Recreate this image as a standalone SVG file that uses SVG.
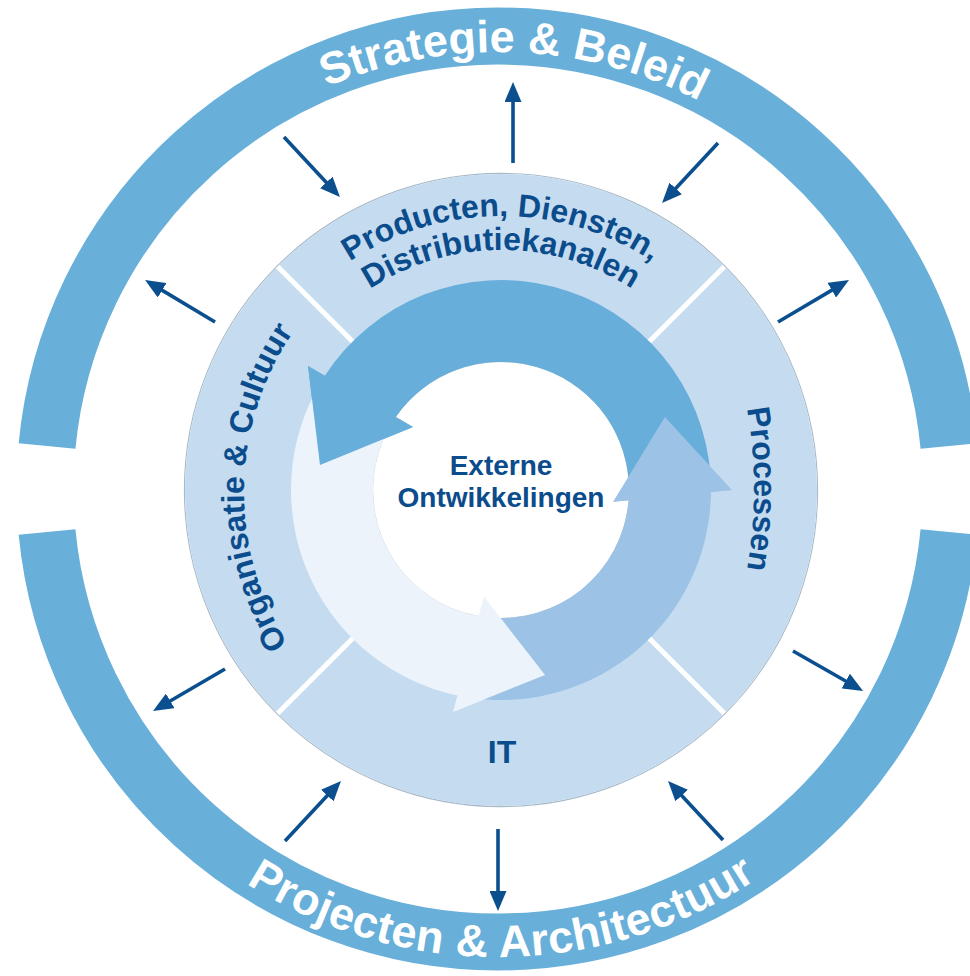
<svg xmlns="http://www.w3.org/2000/svg" width="970" height="976" viewBox="0 0 970 976">
<style>
.ring{fill:none;stroke:#68afd9;stroke-width:57}
.ringtxt{font-family:"Liberation Sans",Arial,sans-serif;font-weight:bold;font-size:45px;fill:#ffffff}
.seg{fill:#c5dcf0}
.segtxt{font-family:"Liberation Sans",Arial,sans-serif;font-weight:bold;font-size:32px;fill:#0b4c8c}
.ctrtxt{font-family:"Liberation Sans",Arial,sans-serif;font-weight:bold;font-size:28px;fill:#0b4c8c;text-anchor:middle}
.conn{fill:none;stroke:#0b4f8f;stroke-width:3.6;marker-end:url(#ah)}
.dark{fill:#68aedb}
.med{fill:#9cc3e6}
.light{fill:#edf3fb}
</style>
<defs>
<marker id="ah" viewBox="0 0 20 17" refX="12" refY="8.5" markerWidth="20" markerHeight="17" markerUnits="userSpaceOnUse" orient="auto">
<path d="M0,0 L20,8.5 L0,17 Z" fill="#0b4f8f"/>
</marker>
<path id="pTop" d="M 61 489 A 437 437 0 0 1 935 489"/>
<path id="pBot" d="M 30 489 A 468 468 0 0 0 966 489"/>
<path id="pL1" d="M 243.53 396.29 A 274 274 0 0 1 758.47 396.29"/>
<path id="pL2" d="M 275.47 407.92 A 240 240 0 0 1 726.53 407.92"/>
<path id="pLeft" d="M 310.4 674.6 A 284 284 0 0 1 316.9 302.0"/>
<path id="pRight" d="M 725.96 329.96 A 465 465 0 0 1 725.96 648.04"/>
</defs>
<rect width="970" height="976" fill="#ffffff"/>

<g id="strategie-beleid">
<path class="ring" d="M 47.05 445.97 A 453 453 0 0 1 948.95 445.97"/>
<text class="ringtxt"><textPath href="#pTop" startOffset="51.2%" text-anchor="middle">Strategie &amp; Beleid</textPath></text>
</g>
<g id="projecten-architectuur">
<path class="ring" d="M 948.95 532.03 A 453 453 0 0 1 47.05 532.03"/>
<text class="ringtxt" letter-spacing="0.5"><textPath href="#pBot" startOffset="50.3%" text-anchor="middle">Projecten &amp; Architectuur</textPath></text>
</g>

<circle cx="501" cy="490" r="316.6" fill="none" stroke="#a9b9c8" stroke-width="1.1"/>

<g id="producten">
<path class="seg" d="M 279.33 264.79 A 316 316 0 0 1 722.67 264.79 L 640.64 346.82 A 200 200 0 0 0 361.36 346.82 Z"/>
<text class="segtxt"><textPath href="#pL1" startOffset="50%" text-anchor="middle">Producten, Diensten,</textPath></text>
<text class="segtxt"><textPath href="#pL2" startOffset="50%" text-anchor="middle">Distributiekanalen</textPath></text>
</g>
<g id="processen">
<path class="seg" d="M 726.21 268.33 A 316 316 0 0 1 726.21 711.67 L 644.18 629.64 A 200 200 0 0 0 644.18 350.36 Z"/>
<text class="segtxt"><textPath href="#pRight" startOffset="50%" text-anchor="middle">Processen</textPath></text>
</g>
<g id="it">
<path class="seg" d="M 722.67 715.21 A 316 316 0 0 1 279.33 715.21 L 361.36 633.18 A 200 200 0 0 0 640.64 633.18 Z"/>
<text class="segtxt" x="502" y="763" text-anchor="middle">IT</text>
</g>
<g id="organisatie">
<path class="seg" d="M 275.79 711.67 A 316 316 0 0 1 275.79 268.33 L 357.82 350.36 A 200 200 0 0 0 357.82 629.64 Z"/>
<text class="segtxt"><textPath href="#pLeft" startOffset="50%" text-anchor="middle">Organisatie &amp; Cultuur</textPath></text>
</g>

<g id="cycle">
<circle cx="501" cy="490" r="128.4" fill="#ffffff" stroke="#b9c3cd" stroke-width="0.8"/>
<path class="dark" d="M 710.49 475.35 A 210 210 0 0 0 324.8 375.8 L 308 366 L 320 465 L 413 427 L 395.8 417.0 A 128 128 0 0 1 628.69 481.07 Z"/>
<path class="light" d="M 313.9 394.7 A 210 210 0 0 0 457.6 695.5 L 453.3 711.7 L 545 675 L 484 596.7 L 478.8 616.1 A 128 128 0 0 1 386.9 431.9 Z"/>
<path class="med" d="M 471.8 698 A 210 210 0 0 0 711.0 492.0 L 731.7 490 L 665 417.3 L 613.3 501.7 L 628.6 500.2 A 128 128 0 0 1 483.2 616.8 Z"/>
<path class="dark" d="M 308 366 L 320 465 L 413 427 Z"/>
<path class="light" d="M 453.3 711.7 L 545 675 L 484 596.7 Z"/>
<path class="med" d="M 731.7 490 L 665 417.3 L 613.3 501.7 Z"/>
</g>

<g id="externe-ontwikkelingen">
<text class="ctrtxt" x="501" y="475">Externe</text>
<text class="ctrtxt" x="501" y="507">Ontwikkelingen</text>
</g>

<g id="connectors">
<line class="conn" x1="284" y1="137" x2="334.5" y2="191.2"/>
<line class="conn" x1="215" y1="322" x2="151.9" y2="284.1"/>
<line class="conn" x1="513" y1="163" x2="513" y2="90"/>
<line class="conn" x1="718" y1="143" x2="667.5" y2="197.2"/>
<line class="conn" x1="778" y1="322" x2="842.1" y2="284.1"/>
<line class="conn" x1="225" y1="669" x2="159.9" y2="707"/>
<line class="conn" x1="285" y1="841" x2="335.5" y2="786.8"/>
<line class="conn" x1="498" y1="829" x2="498" y2="903"/>
<line class="conn" x1="723" y1="840" x2="673.5" y2="786.8"/>
<line class="conn" x1="793" y1="651" x2="856.1" y2="687"/>
</g>
</svg>
